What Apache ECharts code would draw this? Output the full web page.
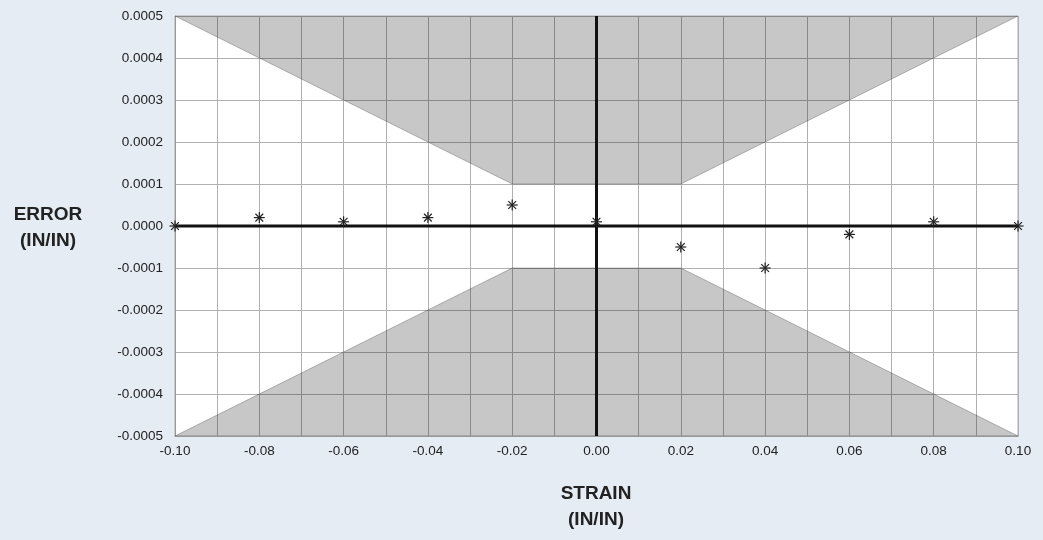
<!DOCTYPE html>
<html>
<head>
<meta charset="utf-8">
<title>Error vs strain</title>
<script src="https://cdn.jsdelivr.net/npm/echarts@6/dist/echarts.min.js"></script>
<style>
  html, body { margin: 0; padding: 0; background: #e5ecf4; }
  #chart { width: 1043px; height: 540px; }
</style>
</head>
<body>
<div id="chart"></div>
<script>
// measured points
const strain = [-0.10, -0.08, -0.06, -0.04, -0.02, 0.00, 0.02, 0.04, 0.06, 0.08, 0.10]
const error = [0.0, 0.00002, 0.00001, 0.00002, 0.00005, 0.00001, -0.00005, -0.00010, -0.00002, 0.00001, 0.0]

// tolerance band (shaded outside)
const bandX = [-0.10, -0.02, 0.02, 0.10]
const bandUpper = [0.0005, 0.0001, 0.0001, 0.0005]
const bandLower = [-0.0005, -0.0001, -0.0001, -0.0005]

const textColor = '#222'
const font = '"Liberation Sans", Arial, sans-serif'

const chart = echarts.init(document.getElementById('chart'))

chart.setOption({
  backgroundColor: '#e5ecf4',
  animation: false,
  grid: {
    left: 175,
    right: 25,
    top: 16,
    bottom: 104,
    show: true,
    backgroundColor: '#fff',
    borderColor: '#aaa',
    borderWidth: 1
  },
  xAxis: {
    type: 'value',
    min: -0.10,
    max: 0.10,
    interval: 0.01,
    axisLine: { onZero: false, lineStyle: { color: '#999' } },
    axisTick: { show: false },
    splitLine: { lineStyle: { color: '#b0b0b0', width: 1 } },
    axisLabel: {
      color: textColor,
      fontFamily: font,
      fontSize: 13.5,
      margin: 8,
      formatter: v => Math.round(v * 100) % 2 === 0 ? v.toFixed(2) : ''
    }
  },
  yAxis: {
    type: 'value',
    min: -0.0005,
    max: 0.0005,
    interval: 0.0001,
    axisLine: { onZero: false, lineStyle: { color: '#999' } },
    axisTick: { show: false },
    splitLine: { lineStyle: { color: '#b0b0b0', width: 1 } },
    axisLabel: {
      color: textColor,
      fontFamily: font,
      fontSize: 13.5,
      margin: 12,
      formatter: v => v.toFixed(4)
    }
  },
  graphic: [
    {
      type: 'text',
      style: { text: 'ERROR\n(IN/IN)', x: 48, y: 202, align: 'center', font: 'bold 19px ' + font, fill: textColor, lineHeight: 26 }
    },
    {
      type: 'text',
      style: { text: 'STRAIN\n(IN/IN)', x: 596, y: 481, align: 'center', font: 'bold 19px ' + font, fill: textColor, lineHeight: 26 }
    }
  ],
  series: [
    {
      type: 'line',
      data: bandX.map((x, i) => [x, bandUpper[i]]),
      symbol: 'none',
      lineStyle: { color: 'rgba(0,0,0,0.25)', width: 1 },
      areaStyle: { origin: 'end', color: 'rgba(0,0,0,0.22)', opacity: 1 },
      silent: true
    },
    {
      type: 'line',
      data: bandX.map((x, i) => [x, bandLower[i]]),
      symbol: 'none',
      lineStyle: { color: 'rgba(0,0,0,0.25)', width: 1 },
      areaStyle: { origin: 'start', color: 'rgba(0,0,0,0.22)', opacity: 1 },
      silent: true
    },
    {
      type: 'line',
      data: [[0, -0.0005], [0, 0.0005]],
      symbol: 'none',
      lineStyle: { color: '#111', width: 3 },
      silent: true,
      z: 3
    },
    {
      type: 'line',
      data: [[-0.10, 0], [0.10, 0]],
      symbol: 'none',
      lineStyle: { color: '#111', width: 3 },
      silent: true,
      z: 3
    },
    {
      type: 'custom',
      z: 5,
      data: strain.map((x, i) => [x, error[i]]),
      renderItem: (params, api) => {
        const p = api.coord([api.value(0), api.value(1)])
        const r = 5.5
        const arms = []
        for (let k = 0; k < 4; k++) {
          const a = k * Math.PI / 4
          arms.push({
            type: 'line',
            shape: { x1: p[0] - r * Math.cos(a), y1: p[1] - r * Math.sin(a), x2: p[0] + r * Math.cos(a), y2: p[1] + r * Math.sin(a) },
            style: { stroke: '#222', lineWidth: 1.2 }
          })
        }
        return { type: 'group', children: arms }
      }
    }
  ]
})
</script>
</body>
</html>
